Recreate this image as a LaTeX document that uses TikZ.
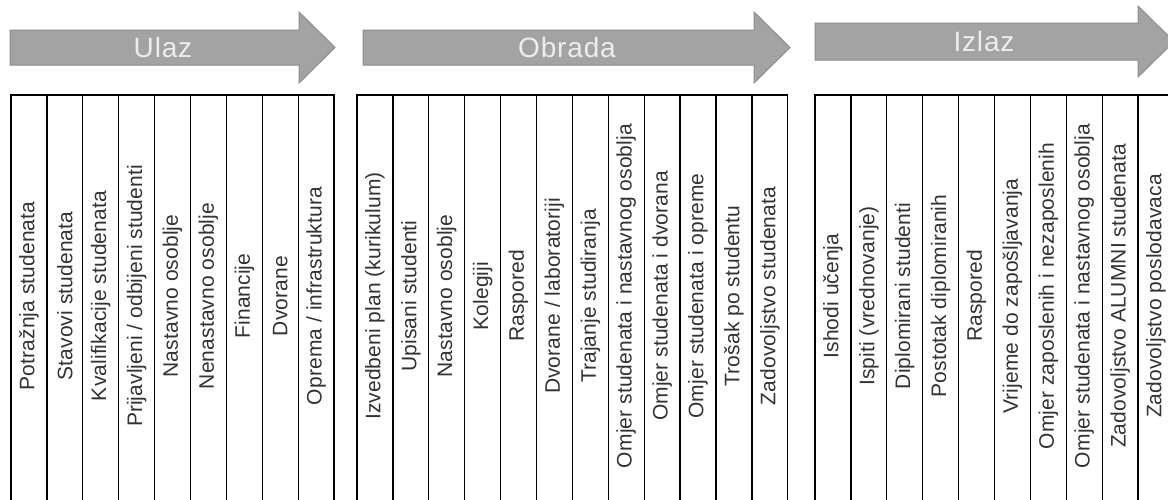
\documentclass[tikz,border=0pt]{standalone}
\usepackage{fontspec}
\setmainfont{Liberation Sans}
\newfontfamily\colfont[LetterSpace=0.5]{Liberation Sans}
\newfontfamily\arrfont[LetterSpace=3]{Liberation Sans}
\definecolor{arrowfill}{HTML}{A3A3A3}
\definecolor{arrowedge}{HTML}{8C8C8C}
\definecolor{arrowtext}{HTML}{EDEDED}
\definecolor{coltextc}{HTML}{333333}
\tikzset{
  bigarrow/.style={fill=arrowfill, draw=arrowedge, line width=1pt, line join=miter},
  arrowlabel/.style={font=\arrfont\fontsize{28}{32}\selectfont, text=arrowtext, inner sep=0pt},
  cellline/.style={draw=black, line width=1.3pt},
  coltext/.style={font=\colfont\fontsize{21}{25}\selectfont, text=coltextc, rotate=90, inner sep=0pt}
}
\begin{document}
\begin{tikzpicture}[x=1pt,y=-1pt]
\useasboundingbox (0,0) rectangle (1168,499);
\clip (0,0) rectangle (1168,499);
\fill[white] (0,0) rectangle (1168,499);

% arrows
\draw[bigarrow] (10,30) -- (299,30) -- (299,12) -- (335,47.5) -- (299,83) -- (299,65) -- (10,65) -- cycle;
\node[arrowlabel] (ulaz) at (163,47.5) {Ulaz};
\draw[bigarrow] (363,30) -- (754,30) -- (754,12) -- (790,47.5) -- (754,83) -- (754,65) -- (363,65) -- cycle;
\node[arrowlabel] (obrada) at (567,47.5) {Obrada};
\draw[bigarrow] (815,23) -- (1138,23) -- (1138,6) -- (1174,41.5) -- (1138,77) -- (1138,60) -- (815,60) -- cycle;
\node[arrowlabel] (izlaz) at (984,41.5) {Izlaz};

% table 1: Ulaz
\foreach \t [count=\i from 0] in {{Potražnja studenata},{Stavovi studenata},{Kvalifikacije studenata},{Prijavljeni / odbijeni studenti},{Nastavno osoblje},{Nenastavno osoblje},{Financije},{Dvorane},{Oprema / infrastruktura}} {
  \draw[cellline] (11+\i*35.9,95) rectangle (11+\i*35.9+35.9,520);
  \node[coltext] (in\i) at (11+\i*35.9+17.95,296) {\t};
}

% table 2: Obrada
\foreach \t [count=\i from 0] in {{Izvedbeni plan (kurikulum)},{Upisani studenti},{Nastavno osoblje},{Kolegiji},{Raspored},{Dvorane / laboratoriji},{Trajanje studiranja},{Omjer studenata i nastavnog osoblja},{Omjer studenata i dvorana},{Omjer studenata i opreme},{Trošak po studentu},{Zadovoljstvo studenata}} {
  \draw[cellline] (357+\i*35.9,95) rectangle (357+\i*35.9+35.9,520);
  \node[coltext] (ob\i) at (357+\i*35.9+17.95,296) {\t};
}

% table 3: Izlaz
\foreach \t [count=\i from 0] in {{Ishodi učenja},{Ispiti (vrednovanje)},{Diplomirani studenti},{Postotak diplomiranih},{Raspored},{Vrijeme do zapošljavanja},{Omjer zaposlenih i nezaposlenih},{Omjer studenata i nastavnog osoblja},{Zadovoljstvo ALUMNI studenata},{Zadovoljstvo poslodavaca}} {
  \draw[cellline] (815+\i*35.9,95) rectangle (815+\i*35.9+35.9,520);
  \node[coltext] (iz\i) at (815+\i*35.9+17.95,296) {\t};
}
\end{tikzpicture}
\end{document}
